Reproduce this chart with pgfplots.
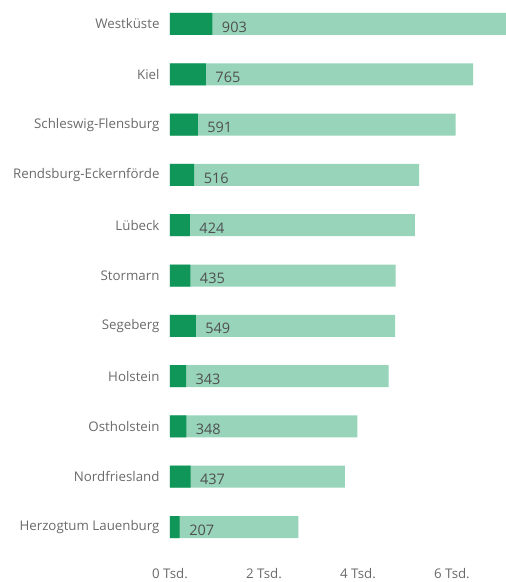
\documentclass[border=0pt]{standalone}
\usepackage{pgfplots}
\pgfplotsset{compat=1.18}
\usepackage{fontspec}
\setmainfont{Open Sans}
\definecolor{darkg}{HTML}{11965A}
\definecolor{lightg}{HTML}{97D4BA}
\definecolor{lblgray}{HTML}{6A6A6A}
\definecolor{valgray}{HTML}{505050}
\begin{document}
\begin{tikzpicture}
\begin{axis}[
  at={(170pt,31pt)}, anchor=south west,
  scale only axis,
  width=336pt, height=551pt,
  xmin=0, xmax=7150,
  ymin=-0.477, ymax=10.477,
  y dir=reverse,
  axis line style={draw=none},
  major tick length=0pt,
  /pgf/number format/assume math mode=true,
  ytick={0,...,10},
  yticklabels={Westküste,Kiel,Schleswig-Flensburg,Rendsburg-Eckernförde,Lübeck,Stormarn,Segeberg,Holstein,Ostholstein,Nordfriesland,Herzogtum Lauenburg},
  yticklabel style={font=\fontsize{13.3}{15}\selectfont, text=lblgray, xshift=-7pt},
  xtick={0,2000,4000,6000},
  xticklabels={0 Tsd.,2 Tsd.,4 Tsd.,6 Tsd.},
  xticklabel style={font=\fontsize{13.3}{15}\selectfont, text=lblgray, yshift=-14pt},
  clip=true,
  xbar, bar width=22pt, bar shift=0pt,
]
\addplot[fill=lightg, draw=none] coordinates {
(7300,0) (6450,1) (6080,2) (5300,3) (5210,4) (4800,5) (4790,6) (4650,7) (3990,8) (3720,9) (2730,10)};
\addplot[fill=darkg, draw=none,
  nodes near coords,
  every node near coord/.append style={font=\fontsize{14.5}{16}\selectfont, text=valgray, anchor=west, xshift=6pt, yshift=-3pt}
] coordinates {
(903,0) (765,1) (591,2) (516,3) (424,4) (435,5) (549,6) (343,7) (348,8) (437,9) (207,10)};
\end{axis}
\pgfresetboundingbox
\path[use as bounding box] (0,0) rectangle (506pt,582pt);
\end{tikzpicture}
\end{document}
